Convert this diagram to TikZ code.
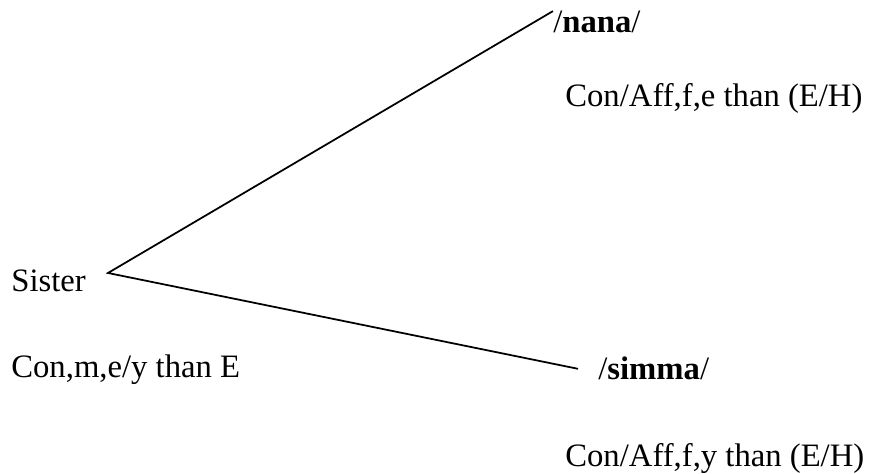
\documentclass[tikz,border=0pt]{standalone}
\usepackage{fontspec}
\setmainfont{Liberation Serif}
\usetikzlibrary{positioning}

\begin{document}
\begin{tikzpicture}[
    font=\fontsize{18.6}{22}\selectfont,
    term/.style={inner sep=0pt, anchor=base west},
    branch/.style={line width=1pt, draw=black}
]
\useasboundingbox (0,0) rectangle (17.48,9.48);

% kin term and its two readings
\node[term] (sister) at (0.22,3.64) {Sister};
\node[term] (sistergloss) at (0.22,1.92) {Con,m,e/y than E};

\node[term] (nana) at (11.06,8.82) {/\textbf{nana}/};
\node[term] (nanagloss) at (11.30,7.34) {Con/Aff,f,e than (E/H)};

\node[term] (simma) at (11.96,1.88) {/\textbf{simma}/};
\node[term] (simmagloss) at (11.30,0.14) {Con/Aff,f,y than (E/H)};

% the fork
\coordinate (fork) at (2.16,4.02);
\draw[branch] (nana.north west) -- (fork) -- ([xshift=-4mm]simma.west);

\end{tikzpicture}
\end{document}
